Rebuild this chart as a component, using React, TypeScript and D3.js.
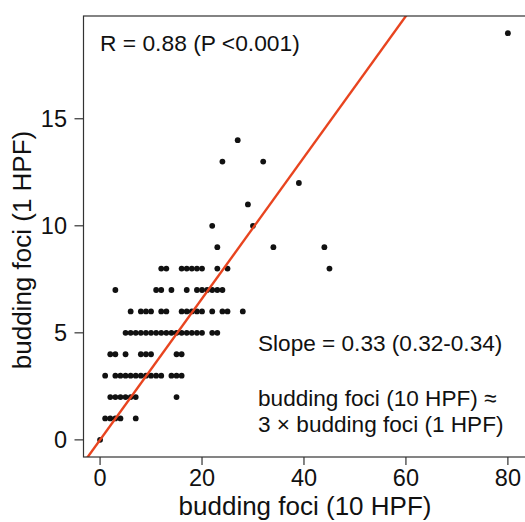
import React from "react";
import * as d3 from "d3";

// budding foci (1 HPF) levels and the budding foci (10 HPF) values observed at each level
const hpf1Levels = [0, 1, 2, 3, 4, 5, 6, 7, 8, 9, 10, 11, 12, 13, 14, 19];
const hpf10AtLevel: number[][] = [
  [0],
  [1, 2, 3, 4, 7],
  [2, 3, 4, 5, 6, 7, 15],
  [1, 3, 4, 5, 6, 7, 8, 9, 10, 11, 12, 14, 15, 16],
  [2, 3, 5, 8, 9, 10, 15, 16],
  [5, 6, 7, 8, 9, 10, 11, 12, 13, 14, 15, 16, 17, 18, 19, 20, 22, 23],
  [6, 8, 9, 10, 12, 13, 16, 17, 18, 19, 20, 22, 24, 25, 28],
  [3, 11, 12, 14, 17, 19, 20, 21, 22, 23, 24],
  [12, 13, 16, 17, 18, 19, 20, 23, 25, 45],
  [23, 34, 44],
  [22, 30],
  [29],
  [39],
  [24, 32],
  [27],
  [80],
];
const xTicks = [0, 20, 40, 60, 80];
const yTicks = [0, 5, 10, 15];
const fitSlope = 0.33;
const fitIntercept = 0;
const rText = "R = 0.88 (P <0.001)";
const slopeText = "Slope = 0.33 (0.32-0.34)";
const eqLine1 = "budding foci (10 HPF) \u2248";
const eqLine2 = "3 \u00d7 budding foci (1 HPF)";
const xTitle = "budding foci (10 HPF)";
const yTitle = "budding foci (1 HPF)";

const W = 525;
const H = 522;
const L = 83.5;
const R = 540;
const T = 16;
const B = 457;

export default function App() {
  const x = d3.scaleLinear().domain([-3.25, 86.3]).range([L, R]);
  const y = d3.scaleLinear().domain([-0.8, 19.8]).range([B, T]);
  const pts: { x: number; y: number }[] = [];
  hpf1Levels.forEach((lv, i) => hpf10AtLevel[i].forEach((v) => pts.push({ x: v, y: lv })));
  const lineGen = d3
    .line<number>()
    .x((d) => x(d))
    .y((d) => y(fitSlope * d + fitIntercept));
  const font = "'Liberation Sans', Arial, Helvetica, sans-serif";
  const axisCol = "#333";
  return (
    <svg
      width={W}
      height={H}
      style={{ position: "fixed", left: 0, top: 0, background: "#fff" }}
      fontFamily={font}
    >
      <defs>
        <clipPath id="plotClip">
          <rect x={L} y={T} width={R - L} height={B - T} />
        </clipPath>
      </defs>
      <rect x={0} y={0} width={W} height={H} fill="#fff" />
      <g>
        {pts.map((p, i) => (
          <circle key={i} cx={x(p.x)} cy={y(p.y)} r={2.9} fill="#111" />
        ))}
      </g>
      <path
        d={lineGen([-3.25, 86.3]) || ""}
        stroke="#e8441f"
        strokeWidth={2.4}
        fill="none"
        clipPath="url(#plotClip)"
      />
      <rect x={L} y={T} width={R - L} height={B - T} fill="none" stroke={axisCol} strokeWidth={1.2} />
      {xTicks.map((t) => (
        <g key={"x" + t}>
          <line x1={x(t)} x2={x(t)} y1={B} y2={B + 8} stroke={axisCol} strokeWidth={1.2} />
          <text x={x(t)} y={486} textAnchor="middle" fontSize={23.5} fill="#111">
            {t}
          </text>
        </g>
      ))}
      {yTicks.map((t) => (
        <g key={"y" + t}>
          <line x1={L - 9} x2={L} y1={y(t)} y2={y(t)} stroke={axisCol} strokeWidth={1.2} />
          <text x={67} y={y(t)} dy="0.35em" textAnchor="end" fontSize={23.5} fill="#111">
            {t}
          </text>
        </g>
      ))}
      <text x={100} y={51} fontSize={22.8} fill="#111">
        {rText}
      </text>
      <text x={258} y={351} fontSize={22.6} fill="#111">
        {slopeText}
      </text>
      <text x={258} y={406} fontSize={22.6} fill="#111">
        {eqLine1}
      </text>
      <text x={258} y={432} fontSize={22.6} fill="#111">
        {eqLine2}
      </text>
      <text x={305} y={515} textAnchor="middle" fontSize={26} fill="#111">
        {xTitle}
      </text>
      <text
        transform={`translate(31, 250) rotate(-90)`}
        textAnchor="middle"
        fontSize={26}
        fill="#111"
      >
        {yTitle}
      </text>
    </svg>
  );
}
